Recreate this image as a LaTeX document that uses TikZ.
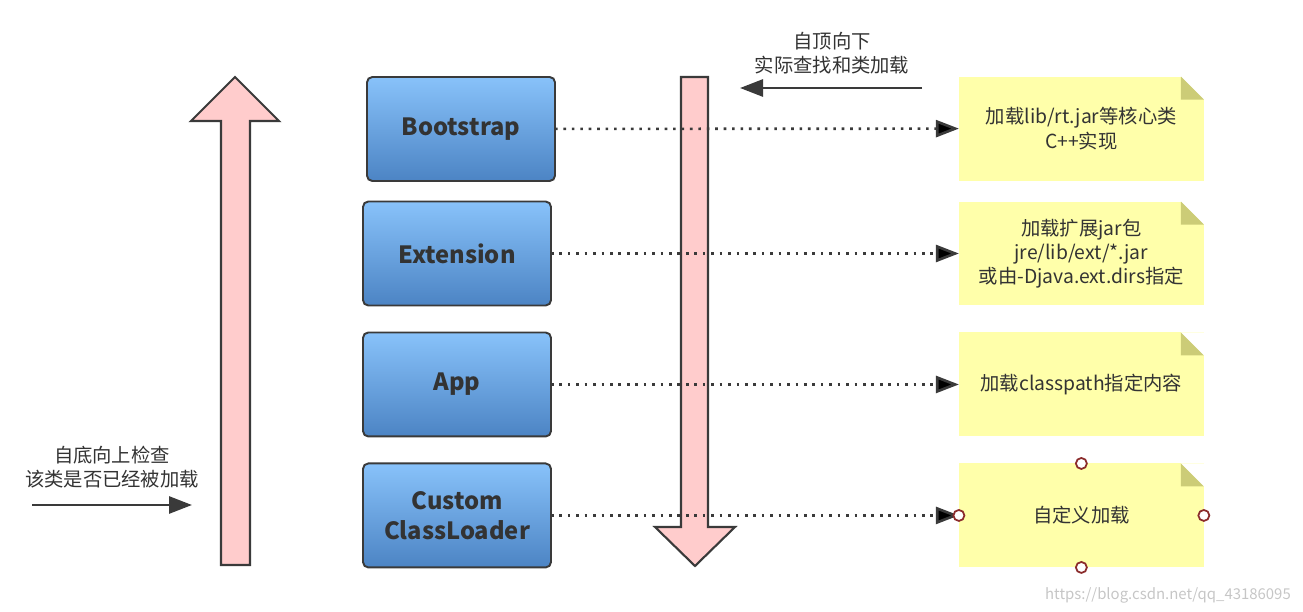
\documentclass[tikz,border=0pt]{standalone}
\usepackage{fontspec}
\setmainfont{Noto Sans CJK SC}
\usetikzlibrary{arrows.meta,positioning}
\definecolor{pinkfill}{HTML}{FFCCCC}
\definecolor{edgegray}{HTML}{3A3A3A}
\definecolor{textgray}{HTML}{333333}
\definecolor{boxtop}{HTML}{88C2FA}
\definecolor{boxbottom}{HTML}{4C84C4}
\definecolor{noteyellow}{HTML}{FFFFAA}
\definecolor{foldcol}{HTML}{CCCC77}
\definecolor{handlered}{HTML}{8B2C2C}
\tikzset{
    %Define standard arrow tip
    >={Triangle[length=0.46cm,width=0.34cm]},
    %Define style for loader boxes
    loader/.style={
           rectangle,
           rounded corners=3pt,
           draw=edgegray, line width=1.1pt,
           outer sep=0pt,
           top color=boxtop, bottom color=boxbottom,
           minimum width=3.76cm,
           minimum height=2.08cm,
           font=\bfseries\fontsize{13.5}{17}\selectfont,
           text=textgray,
           align=center},
    %Define style for notes
    note/.style={
           rectangle,
           fill=noteyellow,
           outer sep=0pt,
           minimum width=4.9cm,
           minimum height=2.08cm,
           font=\fontsize{11}{13.8}\selectfont,
           text=textgray,
           align=center,
           path picture={
             \fill[white] (path picture bounding box.north east) -- ++(-0.46cm,0) -- ++(0.46cm,-0.46cm) -- cycle;
             \fill[foldcol] ([xshift=-0.46cm]path picture bounding box.north east) -- ++(0,-0.46cm) -- ++(0.46cm,0) -- cycle;}},
    flowtext/.style={
           font=\fontsize{11}{13.8}\selectfont,
           text=textgray,
           align=center},
    handle/.style={
           circle,
           draw=handlered, fill=white,
           line width=1pt,
           minimum size=0.22cm,
           inner sep=0pt},
    % Define arrow styles
    bigarrow/.style={
           draw=edgegray, fill=pinkfill,
           line width=1.2pt},
    dots/.style={
           ->,
           draw=edgegray,
           line width=1.5pt,
           dash pattern=on 1.5pt off 3.3pt},
    flow/.style={
           ->,
           draw=edgegray,
           line width=1.6pt}
}

\begin{document}
\begin{tikzpicture}[x=0.02cm,y=-0.02cm]
\useasboundingbox (0,0) rectangle (1303,612);

 %big arrows
\draw[bigarrow] (221,565) -- (221,121) -- (191,121) -- (235,77) -- (279,121) -- (250,121) -- (250,565) -- cycle;
\draw[bigarrow] (681,77) -- (708,77) -- (708,527) -- (735,527) -- (695,566) -- (655,527) -- (681,527) -- cycle;

 %loaders
\node[loader](boot) at (461,129){Bootstrap};
\node[loader](ext) at (457,253.5){Extension};
\node[loader, below=0.54cm of ext](app){App};
\node[loader, below=0.54cm of app](cust){Custom\\ClassLoader};

 %notes
\node[note, right=8.16cm of ext](extnote){加载扩展jar包\\jre/lib/ext/*.jar\\或由-Djava.ext.dirs指定};
\node[note, above=0.42cm of extnote](bootnote){加载lib/rt.jar等核心类\\C++实现};
\node[note, below=0.54cm of extnote](appnote){加载classpath指定内容};
\node[note, below=0.54cm of appnote](custnote){自定义加载};

 \path[dots]
    (boot) edge (bootnote)
    (ext) edge (extnote)
    (app) edge (appnote)
    (cust) edge (custnote);

\foreach \a in {north,south,east,west}
  \node[handle](h-\a) at (custnote.\a){};

 %search direction
\node[flowtext](downtxt) at (832,53){自顶向下\\实际查找和类加载};
\coordinate (dstart) at (922,88);
\coordinate (dend) at (740,88);
\draw[flow] (dstart) -- (dend);

\node[flowtext](uptxt) at (112,467){自底向上检查\\该类是否已经被加载};
\coordinate (ustart) at (32,505);
\coordinate (uend) at (192,505);
\draw[flow] (ustart) -- (uend);

\node[anchor=east, text=gray!45, font=\fontsize{8.5}{10}\selectfont](mark) at (1297,595){https://blog.csdn.net/qq\_43186095};

\end{tikzpicture}
\end{document}
